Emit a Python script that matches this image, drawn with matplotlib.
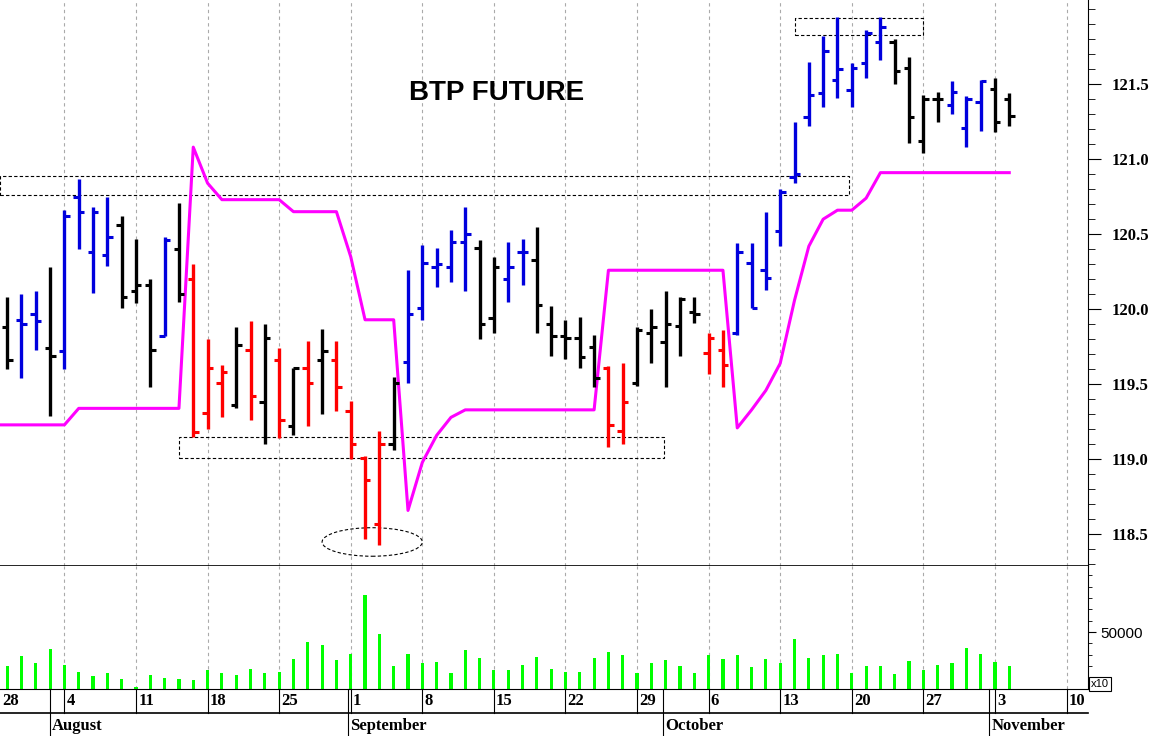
import matplotlib

matplotlib.use("Agg")
import matplotlib.pyplot as plt
from matplotlib.patches import Rectangle, Ellipse
from matplotlib.transforms import blended_transform_factory

# ---- datos (índice = día hábil, 0 = lunes 4 de agosto) ----
first_idx = -4
opens = [119.88, 119.93, 119.97, 119.74, 119.72, 120.75, 120.38, 120.36, 120.56, 120.12,
         120.16, 119.82, 120.40, 120.20, 119.31, 119.51, 119.36, 119.73, 119.38, 119.66,
         119.22, 119.61, 119.66, 119.66, 119.32, 119.01, 118.57, 119.10, 119.65, 120.01,
         120.28, 120.28, 120.45, 120.41, 119.94, 120.20, 120.38, 120.33, 119.90, 119.82,
         119.81, 119.75, 119.61, 119.19, 119.51, 119.84, 119.78, 119.89, 119.98, 119.71,
         119.73, 119.84, 120.31, 120.26, 120.52, 120.88, 121.28, 121.44, 121.53, 121.46,
         121.64, 121.78, 121.78, 121.61, 121.12, 121.40, 121.36, 121.21, 121.38, 121.47,
         121.40]
highs = [120.08, 120.10, 120.12, 120.28, 120.66, 120.87, 120.68, 120.75, 120.62, 120.47,
         120.20, 120.48, 120.71, 120.30, 119.80, 119.63, 119.88, 119.92, 119.90, 119.74,
         119.61, 119.79, 119.87, 119.79, 119.39, 119.02, 119.19, 119.55, 120.26, 120.43,
         120.41, 120.53, 120.68, 120.46, 120.35, 120.45, 120.47, 120.55, 120.02, 119.93,
         119.95, 119.83, 119.62, 119.64, 119.88, 120.00, 120.12, 120.08, 120.08, 119.84,
         119.86, 120.44, 120.44, 120.65, 120.80, 121.25, 121.65, 121.82, 121.95, 121.64,
         121.86, 121.95, 121.80, 121.68, 121.43, 121.45, 121.52, 121.42, 121.53, 121.54,
         121.44]
lows = [119.60, 119.54, 119.73, 119.29, 119.60, 120.40, 120.11, 120.29, 120.01, 120.04,
        119.48, 119.82, 120.05, 119.15, 119.20, 119.28, 119.34, 119.26, 119.10, 119.14,
        119.16, 119.22, 119.30, 119.32, 119.00, 118.47, 118.43, 119.06, 119.51, 119.93,
        120.15, 120.18, 120.12, 119.80, 119.84, 120.05, 120.16, 119.84, 119.69, 119.67,
        119.61, 119.48, 119.08, 119.10, 119.49, 119.64, 119.48, 119.69, 119.91, 119.57,
        119.48, 119.83, 120.01, 120.13, 120.42, 120.84, 121.22, 121.35, 121.41, 121.35,
        121.54, 121.66, 121.50, 121.11, 121.04, 121.25, 121.30, 121.08, 121.19, 121.18,
        121.22]
closes = [119.66, 119.90, 119.92, 119.69, 120.62, 120.65, 120.65, 120.48, 120.08, 120.16,
          119.73, 120.46, 120.10, 119.18, 119.61, 119.58, 119.76, 119.42, 119.81, 119.26,
          119.61, 119.51, 119.72, 119.48, 119.10, 118.86, 119.10, 119.51, 119.97, 120.31,
          120.30, 120.45, 120.50, 119.90, 120.28, 120.28, 120.38, 120.03, 119.82, 119.81,
          119.68, 119.54, 119.23, 119.38, 119.86, 119.88, 119.90, 120.07, 119.97, 119.81,
          119.63, 120.38, 120.01, 120.21, 120.78, 120.90, 121.43, 121.72, 121.60, 121.61,
          121.84, 121.88, 121.59, 121.28, 121.40, 121.40, 121.45, 121.40, 121.52, 121.25,
          121.29]
bar_colors = list("kbbkbbbbkkkbkrrrkrkrkrkrrrrkbbbbbkkbbkkkkkrrkkkkkrrbbbbbbbbbbbkkkkbbbkk")
volumes = [20100, 28800, 22400, 34900, 20900, 14800, 11300, 13700, 8700, 1500,
           12200, 9900, 8700, 7900, 16600, 13700, 12500, 17200, 14200, 14800,
           26200, 41600, 38400, 25300, 31100, 82600, 48600, 20100, 31100, 22400,
           23600, 13700, 34600, 27300, 16600, 16600, 21200, 28500, 17400, 14800,
           14800, 27600, 32300, 29700, 13700, 22400, 25900, 19800, 13700, 30200,
           26200, 29700, 18900, 26200, 22400, 43600, 27600, 30200, 31100, 13700,
           20100, 20100, 12800, 24700, 16600, 21200, 22400, 36300, 31100, 23600,
           19800]
stop_line = [119.23, 119.23, 119.23, 119.23, 119.23, 119.34, 119.34, 119.34, 119.34, 119.34,
             119.34, 119.34, 119.34, 121.08, 120.84, 120.73, 120.73, 120.73, 120.73, 120.73,
             120.65, 120.65, 120.65, 120.65, 120.35, 119.93, 119.93, 119.93, 118.66, 118.98,
             119.16, 119.28, 119.33, 119.33, 119.33, 119.33, 119.33, 119.33, 119.33, 119.33,
             119.33, 119.33, 120.26, 120.26, 120.26, 120.26, 120.26, 120.26, 120.26, 120.26,
             120.26, 119.21, 119.33, 119.46, 119.64, 120.06, 120.42, 120.60, 120.66, 120.66,
             120.74, 120.91, 120.91, 120.91, 120.91, 120.91, 120.91, 120.91, 120.91, 120.91,
             120.91]
day_labels = ["28", "4", "11", "18", "25", "1", "8", "15", "22", "29", "6", "13", "20", "27", "3", "10"]
months = ["August", "September", "October", "November"]
month_pos = [-1.0, 19.8, 41.8, 64.6]
price_ticks = [118.5, 119.0, 119.5, 120.0, 120.5, 121.0, 121.5]

COLORS = {"k": "black", "b": "#0000dd", "r": "#ff0000"}
XMIN, XMAX = -4.5, 71.5

fig = plt.figure(figsize=(11.59, 7.36), dpi=100)
ax = fig.add_axes([0, 170 / 736, 1088 / 1159, 566 / 736])
ax2 = fig.add_axes([0, 47 / 736, 1088 / 1159, 123 / 736])

idx = list(range(first_idx, first_idx + len(opens)))
mondays = [-5 + 5 * k for k in range(len(day_labels))]

for a in (ax, ax2):
    a.set_xlim(XMIN, XMAX)
    for m in mondays[1:]:
        a.axvline(m, color="#aaaaaa", ls=(0, (3, 3)), lw=0.8, zorder=0)

# barras OHLC
tick = 0.38
for x, o, h, l, c, k in zip(idx, opens, highs, lows, closes, bar_colors):
    col = COLORS[k]
    ax.plot([x, x], [l, h], color=col, lw=2.4, solid_capstyle="butt", zorder=3)
    ax.plot([x - tick, x], [o, o], color=col, lw=2.2, solid_capstyle="butt", zorder=3)
    ax.plot([x, x + tick], [c, c], color=col, lw=2.2, solid_capstyle="butt", zorder=3)

ax.plot([XMIN] + idx, [stop_line[0]] + stop_line, color="#ff00ff", lw=2.2, zorder=2)

# recuadros de soporte / resistencia
box = dict(fill=False, ls=(0, (3, 2)), lw=0.8, ec="black", zorder=1)
ax.add_patch(Rectangle((XMIN, 120.76), 54.8 - XMIN, 0.13, **box))
ax.add_patch(Rectangle((8.0, 119.01), 33.9, 0.14, **box))
ax.add_patch(Rectangle((51.0, 121.83), 9.0, 0.11, **box))
ax.add_patch(Ellipse((21.5, 118.45), 7.0, 0.19, fill=False, ls=(0, (3, 2)), lw=0.8, ec="black"))

ax.text(30.2, 121.44, "BTP FUTURE", ha="center", va="center", fontsize=20,
        fontweight="bold", family="Liberation Sans")

ax.set_ylim(118.29, 122.06)
ax.yaxis.tick_right()
ax.set_yticks(price_ticks)
ax.set_yticks([118.3 + 0.1 * k for k in range(38)], minor=True)
ax.set_yticklabels([f"{t:.1f}" for t in price_ticks], family="Liberation Serif",
                   fontweight="bold", fontsize=12)
ax.tick_params(axis="y", which="major", length=9, direction="out", pad=8)
ax.tick_params(axis="y", which="minor", length=5, direction="out")
ax.set_xticks([])
for s in ("top", "left"):
    ax.spines[s].set_visible(False)
ax.spines["bottom"].set_linewidth(1.2)

# volumen
ax2.bar(idx, volumes, width=0.22, color="#00ff00", zorder=2)
ax2.set_ylim(0, 108000)
ax2.yaxis.tick_right()
ax2.set_yticks([50000])
ax2.set_yticks([10000 * k for k in range(1, 11)], minor=True)
ax2.set_yticklabels(["50000"], family="Liberation Sans", fontsize=11)
ax2.tick_params(axis="y", which="major", length=6, pad=3)
ax2.tick_params(axis="y", which="minor", length=3)
ax2.set_xticks([])
for s in ("top", "left"):
    ax2.spines[s].set_visible(False)
ax2.text(1.003, 0.0, "x10", transform=ax2.transAxes, fontsize=8, family="Liberation Sans",
         va="bottom", ha="left", bbox=dict(fc="white", ec="black", lw=0.8, pad=1.5))

# eje de fechas
tr = blended_transform_factory(ax2.transData, ax2.transAxes)
ax2.plot([XMIN, XMAX], [-0.195, -0.195], color="black", lw=1.2, transform=tr, clip_on=False)
for m, lab in zip(mondays, day_labels):
    if m > XMIN:
        ax2.plot([m, m], [0, -0.195], color="black", lw=0.8, transform=tr, clip_on=False)
    ax2.text(max(m, XMIN) + 0.15, -0.1, lab, transform=tr, ha="left", va="center",
             family="Liberation Serif", fontweight="bold", fontsize=12)
for p, lab in zip(month_pos, months):
    ax2.plot([p, p], [0, -0.39], color="black", lw=0.8, transform=tr, clip_on=False)
    ax2.text(p + 0.15, -0.3, lab, transform=tr, ha="left", va="center",
             family="Liberation Serif", fontweight="bold", fontsize=12)

fig.savefig("out.png", dpi=100)
